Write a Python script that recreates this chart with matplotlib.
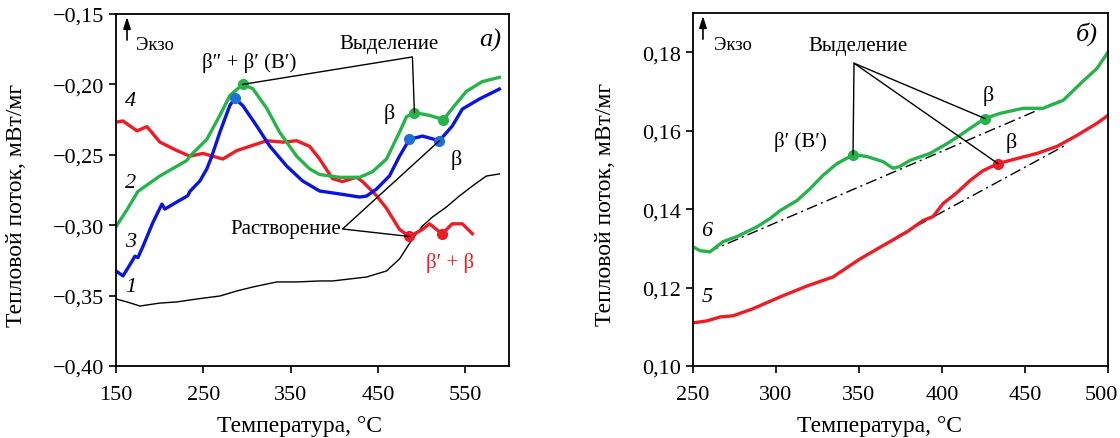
import matplotlib
matplotlib.use('Agg')
import matplotlib.pyplot as plt
import matplotlib.transforms as mtransforms

plt.rcParams['font.family'] = ['Liberation Serif', 'DejaVu Serif']
plt.rcParams['mathtext.fontset'] = 'stix'

# ---- panel a) data ----
t1 = [150, 162.6, 177.4, 200.3, 219.7, 242.6, 268.9, 288.3, 306.6, 334, 356.9, 383.1,
      398, 436.9, 459.7, 474.6, 489.4, 500.9, 512.3, 528.3, 543.1, 558, 574, 588.9]
q1 = [-0.3524, -0.3545, -0.3574, -0.3553, -0.3545, -0.3524, -0.3503, -0.3467, -0.3439,
      -0.3403, -0.3403, -0.3396, -0.3396, -0.3368, -0.3325, -0.324, -0.3098, -0.3006,
      -0.2942, -0.2871, -0.2793, -0.2722, -0.2651, -0.2636]

t2 = [150, 162.6, 175.1, 200.3, 231.1, 234.6, 254, 268.9, 280.3, 295.1, 306.6, 322.6,
      337.4, 356.9, 371.7, 383.1, 406, 428.9, 443.7, 459.7, 474.6, 482.6, 491.7, 508.9,
      524.9, 535.1, 551.1, 569.4, 588.9]
q2 = [-0.301, -0.289, -0.276, -0.265, -0.254, -0.251, -0.239, -0.222, -0.208, -0.200,
      -0.203, -0.217, -0.234, -0.251, -0.260, -0.264, -0.266, -0.266, -0.262, -0.253,
      -0.234, -0.223, -0.220, -0.222, -0.225, -0.217, -0.205, -0.198, -0.195]

t3 = [150, 158, 166, 171.7, 175.1, 180.9, 192.3, 202.6, 206, 219.7, 232.3, 234.6, 246,
      254, 259.7, 268.9, 280.3, 286, 295.1, 311.1, 326, 345.4, 363.7, 383.1, 406, 428.9,
      436.9, 448.3, 463.1, 474.6, 486, 500.9, 520.3, 535.1, 546.6, 566, 589]
q3 = [-0.3325, -0.336, -0.328, -0.322, -0.323, -0.315, -0.298, -0.285, -0.2885, -0.2835,
      -0.279, -0.276, -0.2686, -0.260, -0.251, -0.234, -0.215, -0.210, -0.215, -0.2295,
      -0.2438, -0.258, -0.2686, -0.2757, -0.2778, -0.280, -0.2793, -0.2743, -0.265,
      -0.251, -0.239, -0.2367, -0.240, -0.2295, -0.2175, -0.2104, -0.2033]

t4 = [151, 158, 174, 185.4, 200.3, 219.7, 234.6, 249.4, 272.3, 288.3, 303, 322.6, 340.9,
      356.9, 371.7, 383.1, 398, 409.4, 425.4, 432.3, 448.3, 459.7, 474.6, 486, 500.9,
      508.9, 516.9, 523.7, 535, 546.6, 558]
q4 = [-0.2267, -0.226, -0.233, -0.230, -0.241, -0.247, -0.251, -0.249, -0.253, -0.247,
      -0.244, -0.240, -0.241, -0.240, -0.244, -0.253, -0.267, -0.269, -0.266, -0.269,
      -0.279, -0.288, -0.303, -0.308, -0.303, -0.299, -0.303, -0.306, -0.299, -0.299,
      -0.306]

# marked points on panel a)
mk2_t = [295.1, 491.7, 524.9]
mk2_q = [-0.200, -0.220, -0.225]
mk3_t = [286, 486, 520.3]
mk3_q = [-0.210, -0.239, -0.240]
mk4_t = [486, 523.7]
mk4_q = [-0.308, -0.306]

xticks_a = [150, 250, 350, 450, 550]
yticks_a = [-0.40, -0.35, -0.30, -0.25, -0.20, -0.15]
ylabels_a = ['\u22120,40', '\u22120,35', '\u22120,30', '\u22120,25', '\u22120,20', '\u22120,15']

# ---- panel б) data ----
t5 = [250, 258.4, 266.3, 274.1, 286.1, 302.4, 318.7, 334.3, 350.6, 364.5, 378.9, 388.6,
      394.6, 400.6, 409, 416.9, 424.7, 433.7, 445.2, 457.2, 469.3, 481.3, 493.4, 500]
q5 = [0.1110, 0.1115, 0.1125, 0.1128, 0.1146, 0.1176, 0.1204, 0.1227, 0.1273, 0.1307,
      0.1342, 0.1371, 0.1381, 0.1414, 0.1442, 0.1473, 0.1498, 0.1516, 0.1529, 0.1542,
      0.1560, 0.1588, 0.1619, 0.1639]

t6 = [250, 254.2, 260.2, 268.1, 276.5, 288.6, 296.4, 302.4, 312.7, 320.5, 328.3, 336.7,
      344.6, 346.4, 354.8, 364.5, 370.5, 374.7, 380.7, 392.8, 403, 410.8, 418.7, 425.9,
      434.9, 448.8, 460.8, 472.9, 484.9, 493.4, 500]
q6 = [0.1304, 0.1294, 0.1291, 0.1317, 0.1330, 0.1355, 0.1376, 0.1396, 0.1422, 0.1452,
      0.1486, 0.1516, 0.1534, 0.1539, 0.1534, 0.1521, 0.1504, 0.1509, 0.1524, 0.1542,
      0.1567, 0.1588, 0.1611, 0.1631, 0.1644, 0.1657, 0.1657, 0.1677, 0.1726, 0.1759,
      0.1800]

base5_t = [372.9, 474]
base5_q = [0.1330, 0.1562]
base6_t = [259, 474]
base6_q = [0.1291, 0.1682]

mk6_t = [346.4, 425.9]
mk6_q = [0.1539, 0.1631]
mk5_t = [433.7]
mk5_q = [0.1516]

xticks_b = [250, 300, 350, 400, 450, 500]
yticks_b = [0.10, 0.12, 0.14, 0.16, 0.18]
ylabels_b = ['0,10', '0,12', '0,14', '0,16', '0,18']

GREEN = '#27b34b'
BLUE = '#0a14e0'
BLUE_MK = '#1f6fd6'
RED = '#ee1c24'

fig = plt.figure(figsize=(11.2, 4.39), dpi=100)
ax1 = fig.add_axes([116 / 1120, 1 - 367 / 439, (509 - 116) / 1120, (367 - 15) / 439])
ax2 = fig.add_axes([693 / 1120, 1 - 367 / 439, (1108 - 693) / 1120, (367 - 14) / 439])

for ax in (ax1, ax2):
    ax.tick_params(direction='out', length=5, width=1.2, labelsize=16, top=False, right=False)
    ax.tick_params(axis='x', pad=9)
    for s in ax.spines.values():
        s.set_linewidth(1.3)
    ax.set_xlabel('Температура, °C', fontsize=17)
    ax.set_ylabel('Тепловой поток, мВт/мг', fontsize=17)

ax1.xaxis.set_label_coords(0.466, -0.14)
ax1.yaxis.set_label_coords(-0.226, 0.46)
ax2.xaxis.set_label_coords(0.45, -0.14)
ax2.yaxis.set_label_coords(-0.186, 0.46)

arrow_kw = dict(arrowstyle='-|>,head_length=0.7,head_width=0.22', color='black', lw=1.2,
                shrinkA=0, shrinkB=0)

# panel a)
ax1.plot(t1, q1, color='black', lw=1.0)
ax1.plot(t4, q4, color=RED, lw=2.4)
ax1.plot(t3, q3, color=BLUE, lw=2.4)
ax1.plot(t2, q2, color=GREEN, lw=2.4)
ax1.plot(mk2_t, mk2_q, 'o', color=GREEN, ms=7)
ax1.plot(mk3_t, mk3_q, 'o', color=BLUE_MK, ms=7)
ax1.plot(mk4_t, mk4_q, 'o', color=RED, ms=7)

ax1.set_xlim(150, 600)
ax1.set_ylim(-0.40, -0.15)
ax1.set_xticks(xticks_a)
ax1.set_yticks(yticks_a)
ax1.set_yticklabels(ylabels_a)

lk = dict(color='black', lw=1.0)
# Выделение leaders
ax1.plot([mk2_t[0], 489.4, mk2_t[1]], [mk2_q[0], -0.1805, mk2_q[1]], **lk)
ax1.text(463, -0.171, 'Выделение', fontsize=15, ha='center', va='center')
ax1.text(303, -0.184, 'β″ + β′ (B′)', fontsize=15, ha='center', va='center')
ax1.text(463, -0.220, 'β', fontsize=16, ha='center', va='center')
ax1.text(540, -0.253, 'β', fontsize=16, ha='center', va='center')
# Растворение leaders
ax1.plot([mk3_t[2], 409.4, mk4_t[0]], [mk3_q[2], -0.3027, mk4_q[0]], **lk)
ax1.text(408, -0.302, 'Растворение', fontsize=15, ha='right', va='center')
ax1.text(532, -0.326, 'β′ + β', fontsize=15, ha='center', va='center', color=RED)
ax1.text(579, -0.168, 'а)', fontsize=19, style='italic', ha='center', va='center')
for lab, x, y in [('4', 167, -0.2115), ('2', 167, -0.270), ('3', 167, -0.3115), ('1', 167, -0.3435)]:
    ax1.text(x, y, lab, fontsize=16, style='italic', ha='center', va='center')
ax1.annotate('', xy=(0.028, 0.992), xytext=(0.028, 0.926), xycoords='axes fraction',
             arrowprops=arrow_kw)
ax1.text(0.05, 0.912, 'Экзо', fontsize=13.5, transform=ax1.transAxes, ha='left', va='center')

# panel б)
ax2.plot(base6_t, base6_q, color='black', lw=1.0, linestyle=(0, (8, 3, 1.5, 3)))
ax2.plot(base5_t, base5_q, color='black', lw=1.0, linestyle=(0, (8, 3, 1.5, 3)))
ax2.plot(t5, q5, color=RED, lw=2.4)
ax2.plot(t6, q6, color=GREEN, lw=2.4)
ax2.plot(mk6_t, mk6_q, 'o', color=GREEN, ms=7)
ax2.plot(mk5_t, mk5_q, 'o', color=RED, ms=7)

ax2.set_xlim(250, 500)
ax2.set_ylim(0.10, 0.19)
ax2.set_xticks(xticks_b)
ax2.set_yticks(yticks_b)
ax2.set_yticklabels(ylabels_b)
# keep the last tick label inside the picture
last = ax2.get_xticklabels()[-1]
last.set_transform(last.get_transform() + mtransforms.ScaledTranslation(-7 / 100, 0, fig.dpi_scale_trans))

ax2.plot([mk6_t[0], 347, mk6_t[1]], [mk6_q[0], 0.1772, mk6_q[1]], **lk)
ax2.plot([347, mk5_t[0]], [0.1772, mk5_q[0]], **lk)
ax2.text(349.4, 0.1818, 'Выделение', fontsize=15, ha='center', va='center')
ax2.text(314.5, 0.1573, 'β′ (B′)', fontsize=15, ha='center', va='center')
ax2.text(427.7, 0.169, 'β', fontsize=16, ha='center', va='center')
ax2.text(441.6, 0.157, 'β', fontsize=16, ha='center', va='center')
ax2.text(487, 0.1849, 'б)', fontsize=19, style='italic', ha='center', va='center')
ax2.text(258.4, 0.1345, '6', fontsize=16, style='italic', ha='center', va='center')
ax2.text(258.4, 0.1176, '5', fontsize=16, style='italic', ha='center', va='center')
ax2.annotate('', xy=(0.024, 0.992), xytext=(0.024, 0.926), xycoords='axes fraction',
             arrowprops=arrow_kw)
ax2.text(0.05, 0.912, 'Экзо', fontsize=13.5, transform=ax2.transAxes, ha='left', va='center')

fig.savefig('out.png', dpi=100)
